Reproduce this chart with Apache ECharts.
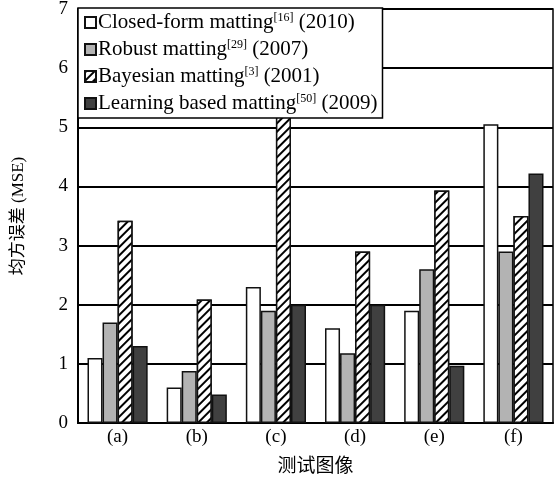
<!DOCTYPE html>
<html>
<head>
<meta charset="utf-8">
<script src="https://cdn.jsdelivr.net/npm/echarts@6/dist/echarts.min.js"></script>
<style>
  html, body { margin: 0; padding: 0; background: #fff; }
  #chart { width: 555px; height: 479px; }
</style>
</head>
<body>
<div id="chart"></div>
<script>
// Data
const categories = ['(a)', '(b)', '(c)', '(d)', '(e)', '(f)'];
const closedForm = [1.1, 0.6, 2.3, 1.6, 1.9, 5.05];
const robust = [1.7, 0.88, 1.9, 1.18, 2.6, 2.9];
const bayesian = [3.42, 2.09, 5.6, 2.9, 3.93, 3.5];
const learning = [1.3, 0.48, 2.0, 2.0, 0.97, 4.22];

const seriesNames = ['Closed-form matting', 'Robust matting', 'Bayesian matting', 'Learning based matting'];
const seriesRefs = ['[16]', '[29]', '[3]', '[50]'];
const seriesYears = ['(2010)', '(2007)', '(2001)', '(2009)'];

const serif = "'Liberation Serif', 'Times New Roman', serif";
const cjk = "'Liberation Serif', 'Noto Sans CJK SC', serif";

const chart = echarts.init(document.getElementById('chart'));

function makeSeries(i, data, fill, decal) {
    const s = {
        name: seriesNames[i],
        type: 'bar',
        data: data,
        barGap: '0%',
        barCategoryGap: '24%',
        itemStyle: {
            color: fill,
            borderColor: '#111',
            borderWidth: 1.5
        }
    };
    if (decal) s.itemStyle.decal = decal;
    return s;
}

// diagonal hatch for the Bayesian bars
const hatch = {
    symbol: 'rect',
    symbolSize: 1,
    color: '#000',
    backgroundColor: '#fff',
    dashArrayX: [1, 0],
    dashArrayY: [1.5, 4],
    rotation: -Math.PI / 4
};

chart.setOption({
    animation: false,
    backgroundColor: '#fff',
    aria: { enabled: false },
    grid: {
        left: 78, right: 2, top: 9, bottom: 56,
        show: true, borderColor: '#000', borderWidth: 1.5,
        containLabel: false,
        outerBoundsMode: 'none'
    },
    legend: {
        orient: 'vertical',
        left: 78, top: 8,
        itemWidth: 11, itemHeight: 11,
        itemGap: 6,
        padding: [4, 5, 4, 6],
        backgroundColor: '#fff',
        borderColor: '#000',
        borderWidth: 1.5,
        borderRadius: 0,
        icon: 'rect',
        data: seriesNames,
        formatter: function (name) {
            const i = seriesNames.indexOf(name);
            return '{t|' + name + '}{s|' + seriesRefs[i] + '}{t| ' + seriesYears[i] + '}';
        },
        textStyle: {
            color: '#000',
            fontFamily: serif,
            fontSize: 21,
            padding: [0, 0, 0, -3],
            rich: {
                t: { fontFamily: serif, fontSize: 21, lineHeight: 21, color: '#000' },
                s: { fontFamily: serif, fontSize: 12, lineHeight: 21, color: '#000', verticalAlign: 'top', padding: [0, 0, 8, 0] }
            }
        }
    },
    xAxis: {
        type: 'category',
        data: categories,
        name: '测试图像',
        nameLocation: 'middle',
        nameGap: 35,
        nameTextStyle: { color: '#000', fontFamily: cjk, fontSize: 19 },
        axisLine: { lineStyle: { color: '#000', width: 2 } },
        axisTick: { show: false },
        axisLabel: { color: '#000', fontFamily: serif, fontSize: 19, margin: 5 }
    },
    yAxis: {
        type: 'value',
        min: 0, max: 7, interval: 1,
        name: '均方误差 (MSE)',
        nameLocation: 'middle',
        nameGap: 51,
        nameTextStyle: { color: '#000', fontFamily: cjk, fontSize: 17 },
        axisLine: { show: true, lineStyle: { color: '#000', width: 2 } },
        axisTick: { show: false },
        axisLabel: { color: '#000', fontFamily: serif, fontSize: 19, margin: 10 },
        splitLine: { lineStyle: { color: '#000', width: 2 } }
    },
    series: [
        makeSeries(0, closedForm, '#fff'),
        makeSeries(1, robust, '#b3b3b3'),
        makeSeries(2, bayesian, '#fff', hatch),
        makeSeries(3, learning, '#404040')
    ]
});
</script>
</body>
</html>
